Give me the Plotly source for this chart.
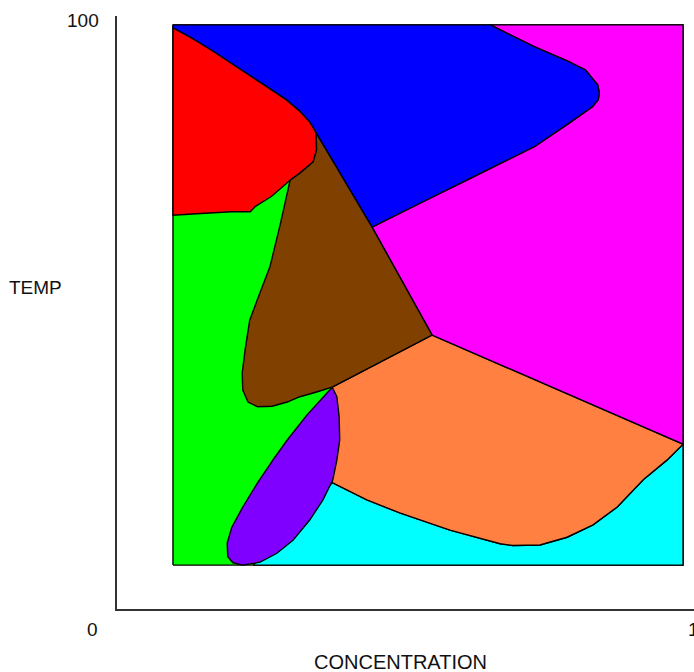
import plotly.graph_objects as go

# Plot frame (data units): concentration 0..1, temperature 0..100
X0, X1 = 0.097, 0.981
Y0, Y1 = 7.4, 98.5

# Junction points between phase regions
J1 = (0.345, 80.3)   # red / blue / brown
J2 = (0.300, 72.3)   # red / green / brown
J3 = (0.373, 37.4)   # brown / green / purple / orange
J4 = (0.546, 46.2)   # brown / orange / magenta
J5 = (0.442, 64.4)   # brown / blue / magenta
J6 = (0.981, 27.8)   # magenta / orange / cyan (right edge)
J7 = (0.373, 21.3)   # orange / cyan / purple

# Boundary curves
red_blue_x = [0.097, 0.131, 0.163, 0.196, 0.228, 0.261, 0.293, 0.316, 0.334, 0.341, 0.345]
red_blue_y = [98.0, 96.2, 94.3, 92.2, 90.1, 88.0, 85.9, 84.0, 82.1, 81.0, 80.3]

red_brown_x = [0.345, 0.346, 0.340, 0.317, 0.300]
red_brown_y = [80.3, 77.4, 75.4, 73.5, 72.3]

red_green_x = [0.300, 0.268, 0.240, 0.231, 0.198, 0.131, 0.097]
red_green_y = [72.3, 69.6, 67.9, 67.0, 67.0, 66.6, 66.4]

green_brown_x = [0.300, 0.283, 0.265, 0.243, 0.230, 0.222, 0.217, 0.218, 0.227, 0.244, 0.269, 0.295, 0.317, 0.346, 0.373]
green_brown_y = [72.3, 64.9, 57.7, 52.1, 48.7, 43.7, 39.8, 36.9, 34.9, 34.1, 34.2, 34.9, 35.8, 36.6, 37.4]

blue_magenta_x = [0.442, 0.525, 0.606, 0.668, 0.724, 0.783, 0.824, 0.834, 0.836, 0.833, 0.812, 0.783, 0.724, 0.653, 0.648]
blue_magenta_y = [64.4, 68.5, 72.3, 75.3, 78.0, 81.9, 84.7, 85.9, 87.0, 88.4, 90.9, 92.3, 94.8, 98.2, 98.5]

orange_cyan_x = [0.981, 0.953, 0.912, 0.867, 0.825, 0.780, 0.733, 0.686, 0.664, 0.577, 0.490, 0.433, 0.373]
orange_cyan_y = [27.8, 25.1, 21.8, 17.2, 14.2, 12.1, 10.8, 10.7, 11.0, 13.3, 16.2, 18.4, 21.3]

purple_x = [0.373, 0.381, 0.385, 0.386, 0.381, 0.374, 0.357, 0.334, 0.305, 0.277, 0.248, 0.218,
            0.201, 0.192, 0.191, 0.199, 0.218, 0.243, 0.270, 0.295, 0.329, 0.357, 0.373]
purple_y = [37.4, 35.8, 32.4, 28.5, 25.1, 21.8, 18.4, 15.0, 11.6, 9.4, 7.9, 7.4,
            7.8, 8.8, 11.1, 13.8, 17.2, 21.2, 25.1, 28.5, 32.7, 35.8, 37.4]

COLORS = {
    "green": "#00FF00", "cyan": "#00FFFF", "orange": "#FF8040", "magenta": "#FF00FF",
    "blue": "#0000FF", "red": "#FF0000", "brown": "#804000", "purple": "#8000FF",
}

def rev(a):
    return list(reversed(a))

regions = []
# green background of the whole frame
regions.append(("green", [X0, X1, X1, X0, X0], [Y0, Y0, Y1, Y1, Y0]))
# cyan (left side hidden under purple)
regions.append(("cyan",
                 [0.236, X1] + orange_cyan_x + [0.236],
                 [Y0, Y0] + orange_cyan_y + [Y0]))
# orange
regions.append(("orange",
                 [J3[0], J4[0]] + orange_cyan_x + [J3[0]],
                 [J3[1], J4[1]] + orange_cyan_y + [J3[1]]))
# magenta
regions.append(("magenta",
                 [blue_magenta_x[-1], X1, J6[0], J4[0]] + blue_magenta_x,
                 [Y1, Y1, J6[1], J4[1]] + blue_magenta_y))
# blue
regions.append(("blue",
                 [X0, blue_magenta_x[-1]] + rev(blue_magenta_x) + [J1[0]] + rev(red_blue_x) + [X0],
                 [Y1, Y1] + rev(blue_magenta_y) + [J1[1]] + rev(red_blue_y) + [Y1]))
# red
regions.append(("red",
                 red_blue_x + red_brown_x + red_green_x + [X0],
                 red_blue_y + red_brown_y + red_green_y + [red_blue_y[0]]))
# brown
regions.append(("brown",
                 [J1[0], J5[0], J4[0]] + rev(green_brown_x) + rev(red_brown_x),
                 [J1[1], J5[1], J4[1]] + rev(green_brown_y) + rev(red_brown_y)))
# purple
regions.append(("purple", purple_x, purple_y))

fig = go.Figure()
for name, xs, ys in regions:
    fig.add_trace(go.Scatter(
        x=xs, y=ys, mode="lines", fill="toself", fillcolor=COLORS[name],
        line=dict(color="black", width=1.4), hoverinfo="skip", showlegend=False, name=name))

font = dict(family="Liberation Sans, Arial, sans-serif", size=19, color="#111111")
annotations = [
    dict(text="100", x=-0.059, y=0.993),
    dict(text="0", x=-0.042, y=-0.035),
    dict(text="1", x=0.999, y=-0.035),
    dict(text="TEMP", x=-0.142, y=0.543),
    dict(text="CONCENTRATION", x=0.492, y=-0.089),
]
for a in annotations:
    a.update(xref="paper", yref="paper", showarrow=False, xanchor="center", yanchor="middle",
             font=dict(font, size=20) if a["text"] == "CONCENTRATION" else font)

fig.update_layout(
    width=694, height=672,
    margin=dict(l=117, r=0, t=16, b=63, pad=0),
    paper_bgcolor="white", plot_bgcolor="white",
    annotations=annotations,
    xaxis=dict(range=[0, 1], showgrid=False, zeroline=False, showticklabels=False, ticks="",
               showline=True, linecolor="#333333", linewidth=2, fixedrange=True),
    yaxis=dict(range=[0, 100], showgrid=False, zeroline=False, showticklabels=False, ticks="",
               showline=True, linecolor="#333333", linewidth=2, fixedrange=True),
)

fig.write_html(
    "out.html",
    config={"displayModeBar": False},
    post_script=("document.body.style.margin='0';"
                 "document.body.style.overflow='hidden';"
                 "document.documentElement.style.overflow='hidden';"),
)
